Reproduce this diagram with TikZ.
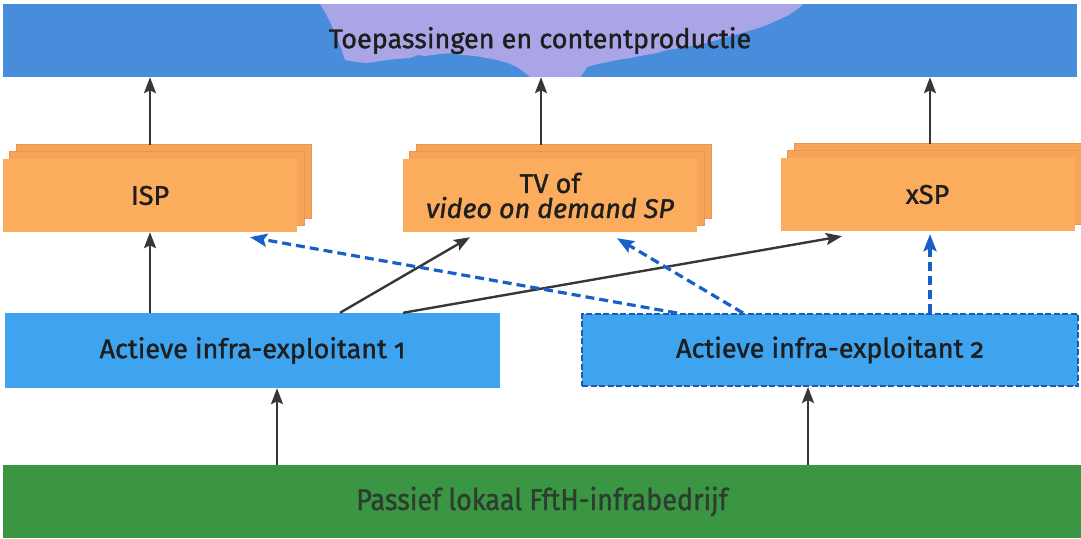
\documentclass[tikz,border=0pt]{standalone}
\usepackage{fontspec}
\setmainfont{Fira Sans}[Numbers=OldStyle,
  UprightFeatures={FakeBold=1.3}, ItalicFeatures={FakeBold=1.3}]
\newfontfamily\narrowsans[FakeStretch=0.9, FakeBold=1.0]{Fira Sans}
\usetikzlibrary{arrows.meta,backgrounds}

\definecolor{topblue}{RGB}{72,141,219}
\definecolor{lavender}{RGB}{170,165,230}
\definecolor{spfront}{RGB}{251,172,92}
\definecolor{spback}{RGB}{246,164,88}
\definecolor{spedge}{RGB}{232,150,80}
\definecolor{actblue}{RGB}{62,164,240}
\definecolor{dashblue}{RGB}{22,96,200}
\definecolor{frameblue}{RGB}{30,90,180}
\definecolor{fieldgreen}{RGB}{58,150,66}
\definecolor{greentext}{RGB}{45,62,48}
\definecolor{arrowgrey}{RGB}{55,55,55}
\definecolor{textdark}{RGB}{30,30,30}

\begin{document}
\begin{tikzpicture}[x=1pt,y=-1pt,
  labelfont/.style={font=\fontsize{27}{27}\selectfont, text=textdark},
  band/.style={inner sep=0pt, labelfont},
  spbox/.style={fill=spfront, minimum width=294pt, minimum height=73pt,
    inner sep=0pt, align=center, labelfont},
  sheet/.style={fill=spback, draw=spedge, line width=0.8pt},
  infrabox/.style={fill=actblue, minimum height=75pt, inner sep=0pt, labelfont},
  solidarrow/.style={draw=arrowgrey, line width=2.4pt,
    -{Stealth[length=16pt,width=12pt,inset=3pt]}},
  dasharrow/.style={draw=dashblue, line width=3.2pt, dash pattern=on 9pt off 5pt,
    -{Stealth[length=17pt,width=13pt,inset=3pt]}}]

\path[use as bounding box] (0,0) rectangle (1081,538);
\clip (0,0) rectangle (1081,538);

% application layer
\node[band, minimum width=1074pt, minimum height=73pt] (top) at (540,40.5)
  {Toepassingen en contentproductie};
\begin{scope}[on background layer]
  \fill[topblue] (top.north west) rectangle (top.south east);
  \fill[lavender] (320,4) -- (326,14) -- (331,24) -- (336,36) -- (341,48) -- (345,60)
    -- (356,62) -- (367,63) -- (380,61) -- (395,59) -- (410,58) -- (418,55) -- (425,56)
    -- (440,54) -- (452,53) -- (462,55) -- (475,56) -- (487,58) -- (497,60) -- (508,63)
    -- (517,67) -- (524,72) -- (530,77) -- (580,77) -- (584,72) -- (587,67) -- (598,64)
    -- (608,62) -- (617,60) -- (630,58) -- (645,55) -- (657,53) -- (667,50) -- (680,48)
    -- (695,45) -- (706,43) -- (717,40) -- (730,36) -- (742,33) -- (755,29) -- (767,25)
    -- (778,20) -- (787,16) -- (793,12) -- (799,8) -- (803,4) -- cycle;
\end{scope}

% service providers
\node[spbox] (isp) at (150,195.5) {ISP};
\node[spbox] (tv) at (550,195.5) {TV of\\[-2pt]\textit{video on demand SP}};
\node[spbox] (xsp) at (927.5,194.5) {xSP};
\begin{scope}[on background layer]
  \foreach \n in {isp,tv,xsp} {
    \path[sheet] ([shift={(14pt,14pt)}]\n.south west) rectangle ([shift={(14pt,14pt)}]\n.north east);
    \path[sheet] ([shift={(7pt,7pt)}]\n.south west) rectangle ([shift={(7pt,7pt)}]\n.north east);
  }
\end{scope}

% active infrastructure operators
\node[infrabox, minimum width=495pt] (act1) at (252.5,350.5) {Actieve infra-exploitant 1};
\node[infrabox, minimum width=496pt, minimum height=72pt, draw=frameblue,
  line width=2pt, dash pattern=on 6pt off 2.5pt] (act2) at (830,350)
  {Actieve infra-exploitant 2};

% passive layer
\node[fill=fieldgreen, minimum width=1078pt, minimum height=73pt, inner sep=0pt,
  font=\narrowsans\fontsize{30}{30}\selectfont, text=greentext] (passive) at (542,501.5)
  {Passief lokaal FftH-infrabedrijf};

% arrows up to the application layer
\coordinate (ispup) at ([yshift=14pt]isp.north);
\coordinate (tvup) at ([shift={(-9pt,14pt)}]tv.north);
\coordinate (xspup) at ([shift={(2.5pt,14pt)}]xsp.north);
\draw[solidarrow] (ispup) -- (ispup |- top.south);
\draw[solidarrow] (tvup) -- (tvup |- top.south);
\draw[solidarrow] (xspup) -- (xspup |- top.south);

% operator 1 to the providers
\draw[solidarrow] (act1.north -| isp.south) -- (isp.south);
\draw[solidarrow] ([xshift=87.5pt]act1.north) -- ([shift={(-80pt,-5pt)}]tv.south);
\draw[solidarrow] ([xshift=150.5pt]act1.north) -- ([shift={(-85.5pt,-5pt)}]xsp.south);

% operator 2 to the providers
\coordinate (xspin) at ([shift={(2.5pt,-3pt)}]xsp.south);
\draw[dasharrow] ([xshift=-153pt]act2.north) -- ([shift={(100pt,-5pt)}]isp.south);
\draw[dasharrow] ([xshift=-87pt]act2.north) -- ([shift={(67pt,-6pt)}]tv.south);
\draw[dasharrow] (xspin |- act2.north) -- (xspin);

% passive layer to the operators
\coordinate (p1) at ([xshift=24.5pt]act1.south);
\coordinate (p2) at ([xshift=-22pt]act2.south);
\draw[solidarrow] (p1 |- passive.north) -- (p1);
\draw[solidarrow] (p2 |- passive.north) -- (p2);
\end{tikzpicture}
\end{document}
